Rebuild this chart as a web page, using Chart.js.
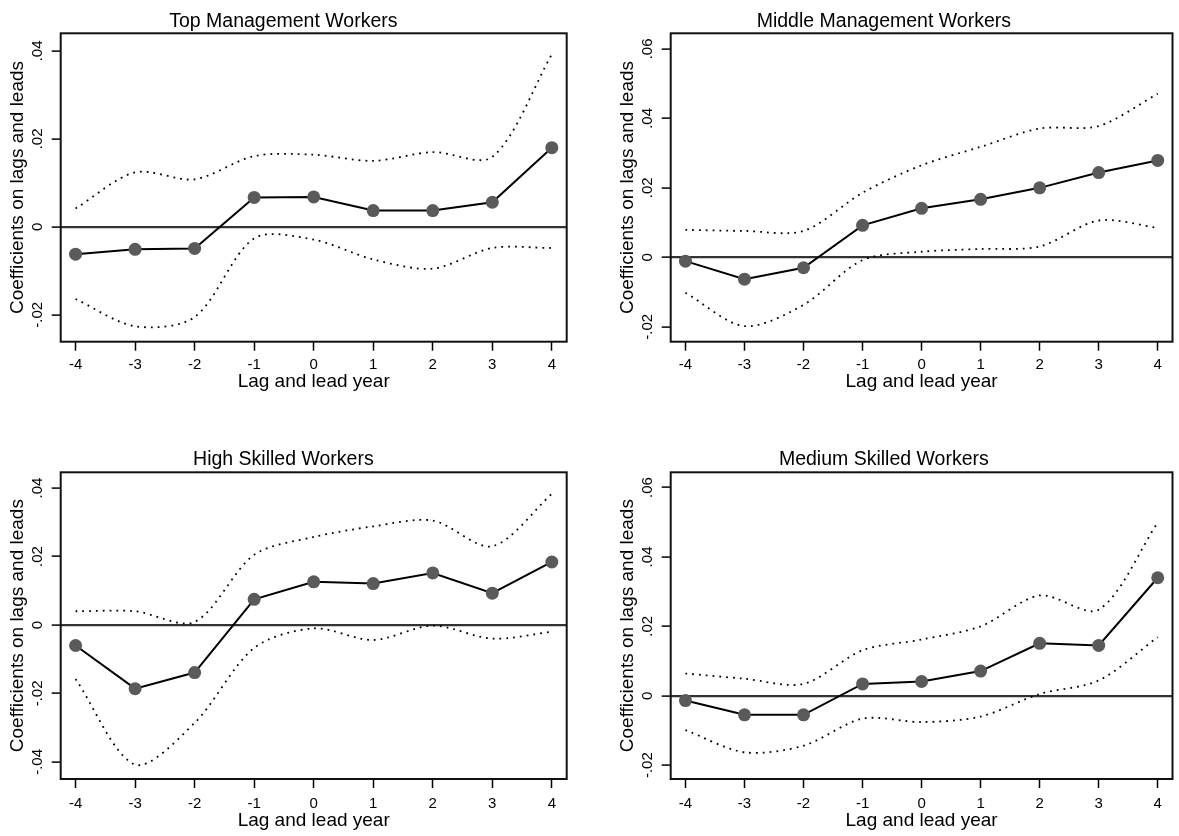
<!DOCTYPE html>
<html>
<head>
<meta charset="utf-8">
<script src="https://cdn.jsdelivr.net/npm/chart.js@4/dist/chart.umd.min.js"></script>
<style>
  body { margin: 0; background: #fff; }
  #wrap { position: relative; width: 1179px; height: 836px; }
  .panel { position: absolute; }
</style>
</head>
<body>
<div id="wrap">
  <canvas id="topMgmt" class="panel" width="590" height="418" style="left:0;top:0"></canvas>
  <canvas id="midMgmt" class="panel" width="589" height="418" style="left:590px;top:0"></canvas>
  <canvas id="highSkill" class="panel" width="590" height="418" style="left:0;top:418px"></canvas>
  <canvas id="medSkill" class="panel" width="589" height="418" style="left:590px;top:418px"></canvas>
</div>
<script>
// años de rezago / adelanto (eje x)
const lagYears = [-4, -3, -2, -1, 0, 1, 2, 3, 4];

// Top management
const topMgmtCoef  = [-0.0062, -0.0051, -0.0049, 0.0067, 0.0068, 0.0037, 0.0037, 0.0056, 0.0180];
const topMgmtUpper = [0.0042, 0.0124, 0.0108, 0.0161, 0.0164, 0.0150, 0.0170, 0.0159, 0.0392];
const topMgmtLower = [-0.0164, -0.0226, -0.0205, -0.0026, -0.0029, -0.0074, -0.0095, -0.0048, -0.0048];

// Middle management
const midMgmtCoef  = [-0.0011, -0.0063, -0.0030, 0.0092, 0.0141, 0.0167, 0.0200, 0.0244, 0.0279];
const midMgmtUpper = [0.0079, 0.0076, 0.0076, 0.0186, 0.0265, 0.0318, 0.0371, 0.0378, 0.0471];
const midMgmtLower = [-0.0102, -0.0198, -0.0137, -0.0008, 0.0016, 0.0024, 0.0031, 0.0106, 0.0085];

// High skilled
const highSkillCoef  = [-0.0060, -0.0186, -0.0139, 0.0075, 0.0126, 0.0121, 0.0152, 0.0093, 0.0184];
const highSkillUpper = [0.0040, 0.0040, 0.0009, 0.0205, 0.0257, 0.0288, 0.0305, 0.0230, 0.0383];
const highSkillLower = [-0.0158, -0.0408, -0.0286, -0.0067, -0.0010, -0.0044, -0.0002, -0.0040, -0.0020];

// Medium skilled
const medSkillCoef  = [-0.0014, -0.0055, -0.0055, 0.0034, 0.0041, 0.0071, 0.0151, 0.0145, 0.0340];
const medSkillUpper = [0.0064, 0.0049, 0.0034, 0.0131, 0.0162, 0.0200, 0.0289, 0.0248, 0.0499];
const medSkillLower = [-0.0099, -0.0163, -0.0144, -0.0066, -0.0076, -0.0060, 0.0005, 0.0044, 0.0169];

// marcas del eje y de cada panel
const yTicksTopMgmt = [-0.02, 0, 0.02, 0.04];
const yTicksMidMgmt = [-0.02, 0, 0.02, 0.04, 0.06];
const yTicksHighSkill = [-0.04, -0.02, 0, 0.02, 0.04];
const yTicksMedSkill = [-0.02, 0, 0.02, 0.04, 0.06];

Chart.defaults.font.family = '"Liberation Sans", Arial, Helvetica, sans-serif';
Chart.defaults.color = "#000";

// formato tipo Stata: .02, -.02, 0
function stataLabel(v) {
    if (Math.abs(v) < 1e-9) return "0";
    const s = Math.abs(v).toFixed(2).replace(/^0/, "");
    return (v < 0 ? "-" : "") + s;
}

function toPoints(values) {
    return lagYears.map((x, i) => ({ x: x, y: values[i] }));
}

// dibuja el marco completo del área del gráfico
const frameBox = {
    id: "frameBox",
    afterDatasetsDraw(chart) {
        const a = chart.chartArea;
        const ctx = chart.ctx;
        ctx.save();
        ctx.strokeStyle = "#111";
        ctx.lineWidth = 2;
        ctx.strokeRect(a.left, a.top, a.right - a.left, a.bottom - a.top);
        ctx.restore();
    },
};

function makePanel(id, title, coef, upper, lower, yMin, yMax, yTicks, lay) {
    const ciStyle = {
        borderColor: "#000",
        borderWidth: 1.8,
        borderDash: [1.8, 5],
        pointRadius: 0,
        tension: 0.3,
        fill: false,
    };

    return new Chart(document.getElementById(id), {
        type: "line",
        data: {
            datasets: [
                Object.assign({ label: "upper", data: toPoints(upper) }, ciStyle),
                Object.assign({ label: "lower", data: toPoints(lower) }, ciStyle),
                {
                    label: "coef",
                    data: toPoints(coef),
                    borderColor: "#000",
                    borderWidth: 2,
                    pointRadius: 6.5,
                    pointBackgroundColor: "#5a5a5a",
                    pointBorderWidth: 0,
                    tension: 0,
                },
            ],
        },
        options: {
            responsive: false,
            animation: false,
            events: [],
            devicePixelRatio: 1,
            layout: { padding: { left: 0, right: lay.padRight, top: 0, bottom: 0 } },
            plugins: {
                legend: { display: false },
                tooltip: { enabled: false },
                title: {
                    display: true,
                    text: title,
                    color: "#000",
                    font: { size: 19.5, weight: "normal" },
                    padding: { top: lay.titleTop, bottom: lay.titleBottom },
                },
            },
            scales: {
                x: {
                    type: "linear",
                    min: -4.25,
                    max: 4.25,
                    afterBuildTicks: (s) => { s.ticks = lagYears.map((v) => ({ value: v })); },
                    afterFit: (s) => { s.height = lay.xAxisH; },
                    border: { display: false },
                    grid: { drawOnChartArea: false, tickLength: 9, tickColor: "#000", tickWidth: 1.5 },
                    ticks: { font: { size: 15 }, padding: lay.xTickPad, maxRotation: 0 },
                    title: {
                        display: true,
                        text: "Lag and lead year",
                        font: { size: 19 },
                        padding: { top: 0, bottom: lay.xTitlePad },
                    },
                },
                y: {
                    min: yMin,
                    max: yMax,
                    afterBuildTicks: (s) => { s.ticks = yTicks.map((v) => ({ value: v })); },
                    afterFit: (s) => { s.width = lay.yAxisW; },
                    border: { display: false },
                    grid: {
                        drawOnChartArea: true,
                        color: (c) => (c.tick && Math.abs(c.tick.value) < 1e-9 ? "#333" : "rgba(0,0,0,0)"),
                        lineWidth: 2.2,
                        tickLength: 9,
                        tickColor: "#000",
                        tickWidth: 1.5,
                    },
                    ticks: {
                        font: { size: 15 },
                        minRotation: 90,
                        maxRotation: 90,
                        crossAlign: "center",
                        padding: 1,
                        callback: (v) => stataLabel(v),
                    },
                    title: {
                        display: true,
                        text: "Coefficients on lags and leads",
                        font: { size: 19 },
                        padding: { top: lay.yTitlePad, bottom: 0 },
                    },
                },
            },
        },
        plugins: [frameBox],
    });
}

const layTopLeft = { padRight: 23.3, titleTop: 9.5, titleBottom: 0.4, xAxisH: 76.3, xTickPad: 5, xTitlePad: 24.9, yAxisW: 60.7, yTitlePad: 6.6 };
const layTopRight = { padRight: 1.3, titleTop: 9.5, titleBottom: 0.4, xAxisH: 76.3, xTickPad: 5, xTitlePad: 24.9, yAxisW: 80.7, yTitlePad: 26.6 };
const layBotLeft = { padRight: 23.3, titleTop: 29.5, titleBottom: 1.4, xAxisH: 57, xTickPad: 7, xTitlePad: 3.6, yAxisW: 60.7, yTitlePad: 6.6 };
const layBotRight = { padRight: 1.3, titleTop: 29.5, titleBottom: 1.4, xAxisH: 57, xTickPad: 7, xTitlePad: 3.6, yAxisW: 80.7, yTitlePad: 26.6 };

makePanel("topMgmt", "Top Management Workers", topMgmtCoef, topMgmtUpper, topMgmtLower, -0.0261, 0.0440, yTicksTopMgmt, layTopLeft);
makePanel("midMgmt", "Middle Management Workers", midMgmtCoef, midMgmtUpper, midMgmtLower, -0.0243, 0.0645, yTicksMidMgmt, layTopRight);
makePanel("highSkill", "High Skilled Workers", highSkillCoef, highSkillUpper, highSkillLower, -0.0450, 0.0446, yTicksHighSkill, layBotLeft);
makePanel("medSkill", "Medium Skilled Workers", medSkillCoef, medSkillUpper, medSkillLower, -0.0240, 0.0644, yTicksMedSkill, layBotRight);
</script>
</body>
</html>
